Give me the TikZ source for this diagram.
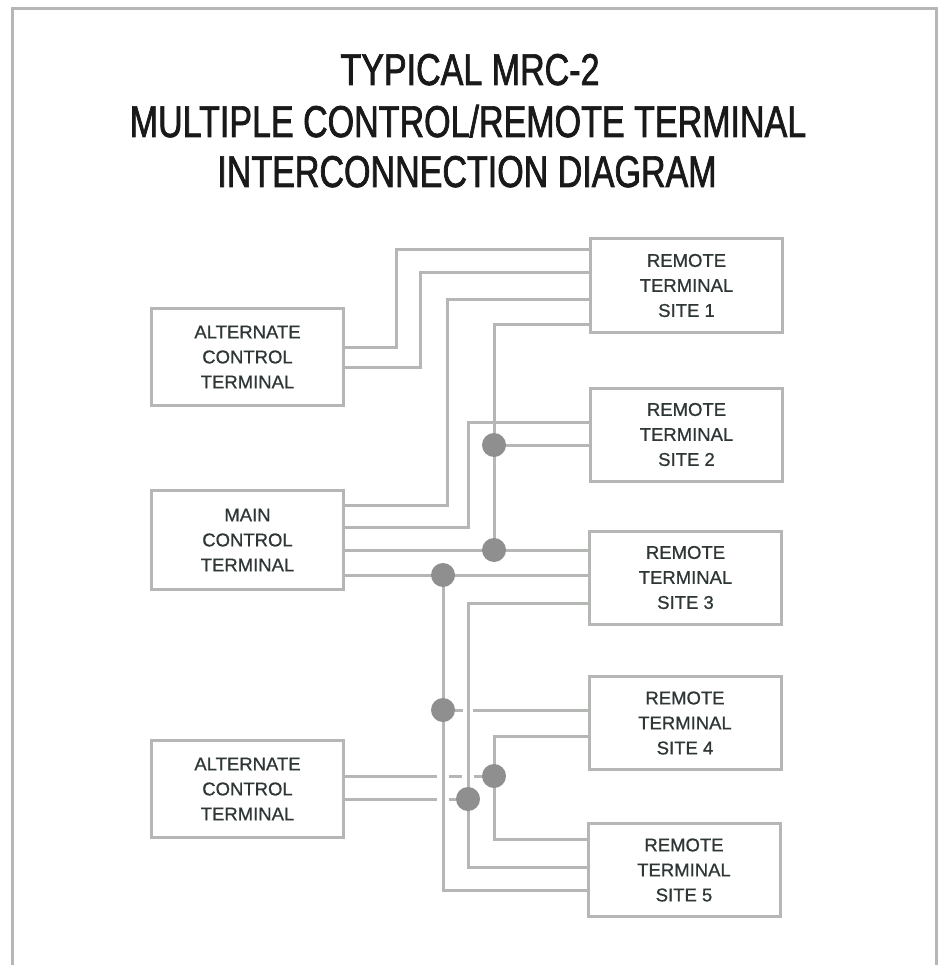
\documentclass[tikz,border=0pt]{standalone}
\usepackage{fontspec}
\setmainfont{Liberation Sans}
\newfontfamily\titlefont[FakeStretch=0.765, FakeBold=1.6]{Liberation Sans}
\newfontfamily\boxfont[FakeBold=0.8]{Liberation Sans}
\definecolor{wiregray}{HTML}{B4B7B4}
\definecolor{jointgray}{HTML}{8E8F8E}
\definecolor{labelgray}{HTML}{2E3636}
\begin{document}
\begin{tikzpicture}[
  x=1pt, y=-1pt,
  wire/.style={draw=wiregray, line width=3pt},
  term/.style={draw=wiregray, line width=3pt, minimum width=192pt, minimum height=97pt, align=center, text=labelgray, font=\boxfont\fontsize{18.5}{25}\selectfont},
  site/.style={term, minimum height=93pt},
  joint/.style={circle, fill=jointgray, minimum size=24pt, inner sep=0pt},
  heading/.style={anchor=base, text=black!90, font=\titlefont\fontsize{44.5}{51}\selectfont}
]
  \useasboundingbox (0,0) rectangle (944,965);
  \draw[wire] (12,975) -- (12,9) -- (936,9) -- (936,975);
  \node[heading] (title1) at (470,85) {TYPICAL MRC-2};
  \node[heading] (title2) at (468,137) {MULTIPLE CONTROL/REMOTE TERMINAL};
  \node[heading] (title3) at (467,187) {INTERCONNECTION DIAGRAM};
  % terminals
  \node[term] (alt1) at (247.5,357) {ALTERNATE\\CONTROL\\TERMINAL};
  \node[term, minimum height=99pt] (main) at (247.5,540) {MAIN\\CONTROL\\TERMINAL};
  \node[term] (alt2) at (247.5,789) {ALTERNATE\\CONTROL\\TERMINAL};
  \node[site] (site1) at (686.5,285.5) {REMOTE\\TERMINAL\\SITE 1};
  \node[site] (site2) at (686.5,434.5) {REMOTE\\TERMINAL\\SITE 2};
  \node[site] (site3) at (685.5,577.5) {REMOTE\\TERMINAL\\SITE 3};
  \node[site] (site4) at (685,723) {REMOTE\\TERMINAL\\SITE 4};
  \node[site] (site5) at (684,870) {REMOTE\\TERMINAL\\SITE 5};
  % junctions
  \coordinate (j1) at (494,445);
  \coordinate (j2) at (494,550);
  \coordinate (j3) at (443,575);
  \coordinate (j4) at (443,710);
  \coordinate (j5) at (494,776);
  \coordinate (j6) at (468,799);
  % alternate 1 and main
  \draw[wire] (alt1.east |- 0,347) -| (396,250) -- (site1.west |- 0,250);
  \draw[wire] (alt1.east |- 0,367) -| (420,273) -- (site1.west |- 0,273);
  \draw[wire] (main.east |- 0,505) -| (447,299) -- (site1.west |- 0,299);
  \draw[wire] (main.east |- 0,527) -| (468,422) -- (site2.west |- 0,422);
  \draw[wire] (main.east |- j2) -- (site3.west |- j2);
  \draw[wire] (main.east |- j3) -- (site3.west |- j3);
  % risers
  \draw[wire] (site1.west |- 0,324) -| (j2);
  \draw[wire] (j1) -- (site2.west |- j1);
  \draw[wire] (j3) |- (site5.west |- 0,890);
  \draw[wire] (site3.west |- 0,603) -| (468,867) -- (site5.west |- 0,867);
  \draw[wire] (site4.west |- 0,736) -| (494,839) -- (site5.west |- 0,839);
  \draw[wire] (j4) -- ([xshift=-5]j4 -| j6);
  \draw[wire] ([xshift=5]j4 -| j6) -- (site4.west |- j4);
  % alternate 2, crossing the risers
  \draw[wire] (alt2.east |- j5) -- ([xshift=-6]j5 -| j4);
  \draw[wire] ([xshift=6]j5 -| j4) -- ([xshift=-6]j5 -| j6);
  \draw[wire] ([xshift=6]j5 -| j6) -- (j5);
  \draw[wire] (alt2.east |- j6) -- ([xshift=-6]j6 -| j4);
  \draw[wire] ([xshift=6]j6 -| j4) -- (j6);
  \foreach \j in {j1,j2,j3,j4,j5,j6}
    \node[joint] at (\j) {};
\end{tikzpicture}
\end{document}
